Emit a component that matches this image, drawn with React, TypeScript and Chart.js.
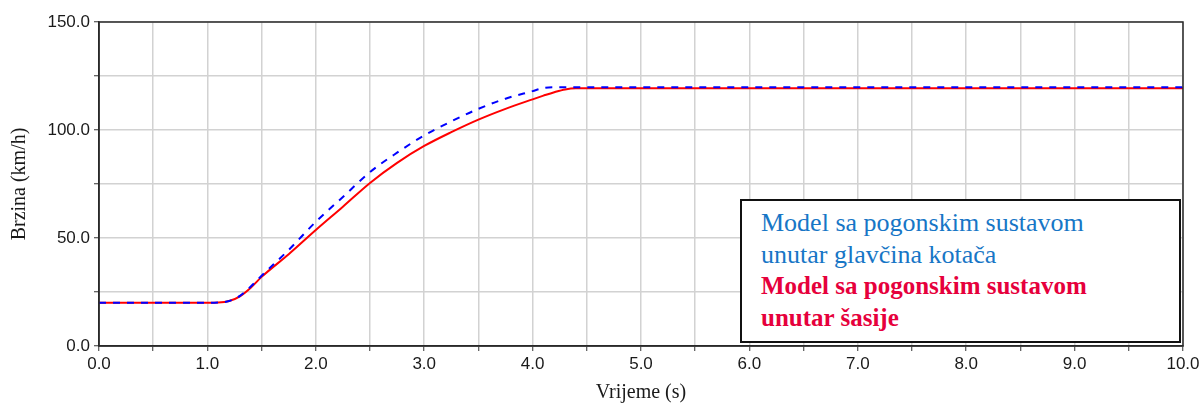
import React, { useEffect, useRef } from "react";
import { Chart, registerables } from "chart.js";

Chart.register(...registerables);

const timeS = [0, 1.0, 1.1, 1.2, 1.3, 1.4, 1.5, 1.75, 2.0, 2.25, 2.5, 2.75, 3.0, 3.25, 3.5, 3.75, 4.0, 4.1, 4.2, 4.3, 4.4, 5.0, 10.0];
const speedHub = [20, 20, 20.1, 20.8, 23.2, 27.5, 32.5, 44.5, 57.5, 69, 80.5, 89.5, 97.5, 104, 109.8, 114.5, 118, 119.4, 119.8, 119.8, 119.8, 119.8, 119.8];
const speedChassis = [20, 20, 20.1, 20.8, 23, 27, 32, 42.5, 53.7, 64.5, 75.5, 84.8, 92.6, 99, 104.8, 109.8, 114.2, 115.9, 117.5, 118.8, 119.3, 119.3, 119.3];

const seriesHub = "Model sa pogonskim sustavom unutar glavčina kotača";
const seriesChassis = "Model sa pogonskim sustavom unutar šasije";
const legendHub = ["Model sa pogonskim sustavom", "unutar glavčina kotača"];
const legendChassis = ["Model sa pogonskim sustavom", "unutar šasije"];
const xTitle = "Vrijeme (s)";
const yTitle = "Brzina (km/h)";

const W = 1203;
const H = 405;

const frame = {
  id: "frame",
  afterDatasetsDraw(chart: any) {
    const { ctx, chartArea: a } = chart;
    ctx.save();
    ctx.strokeStyle = "#2a2a2a";
    ctx.lineWidth = 1.5;
    ctx.strokeRect(a.left, a.top, a.right - a.left, a.bottom - a.top);
    ctx.restore();
  },
};

export default function App() {
  const ref = useRef<HTMLCanvasElement | null>(null);

  useEffect(() => {
    document.body.style.margin = "0";
    const canvas = ref.current;
    if (!canvas) return;
    const chart = new Chart(canvas, {
      type: "line",
      data: {
        datasets: [
          {
            label: seriesHub,
            data: timeS.map((t, i) => ({ x: t, y: speedHub[i] })),
            borderColor: "#0000ff",
            borderWidth: 2,
            borderDash: [7, 7],
            pointRadius: 0,
            cubicInterpolationMode: "monotone",
            fill: false,
          },
          {
            label: seriesChassis,
            data: timeS.map((t, i) => ({ x: t, y: speedChassis[i] })),
            borderColor: "#ff0000",
            borderWidth: 2,
            pointRadius: 0,
            cubicInterpolationMode: "monotone",
            fill: false,
          },
        ],
      },
      options: {
        responsive: false,
        animation: false,
        layout: { padding: { top: 22, right: 20, left: 0, bottom: 0 } },
        plugins: { legend: { display: false }, tooltip: { enabled: false } },
        scales: {
          x: {
            type: "linear",
            min: 0,
            max: 10,
            afterFit: (s: any) => {
              s.height = 59;
            },
            ticks: {
              stepSize: 0.5,
              autoSkip: false,
              maxRotation: 0,
              padding: 3,
              color: "#1a1a1a",
              font: { family: "'Liberation Sans', Arial, sans-serif", size: 17 },
              callback: (v: any) => (Number.isInteger(v) ? Number(v).toFixed(1) : ""),
            },
            grid: { color: "#d2d2d2", lineWidth: 1.5, tickLength: 5, tickColor: "#333333", tickWidth: 1 },
            border: { color: "#2a2a2a", width: 1.5 },
            title: {
              display: true,
              text: xTitle,
              color: "#1a1a1a",
              font: { family: "'Liberation Serif', 'Times New Roman', serif", size: 20 },
              padding: { top: 0, bottom: 0 },
            },
          },
          y: {
            type: "linear",
            min: 0,
            max: 150,
            afterFit: (s: any) => {
              s.width = 99;
            },
            ticks: {
              stepSize: 25,
              autoSkip: false,
              padding: 4,
              color: "#1a1a1a",
              font: { family: "'Liberation Sans', Arial, sans-serif", size: 17 },
              callback: (v: any) => (Number(v) % 50 === 0 ? Number(v).toFixed(1) : ""),
            },
            grid: { color: "#d2d2d2", lineWidth: 1.5, tickLength: 5, tickColor: "#333333", tickWidth: 1 },
            border: { color: "#2a2a2a", width: 1.5 },
            title: {
              display: true,
              text: yTitle,
              color: "#1a1a1a",
              font: { family: "'Liberation Serif', 'Times New Roman', serif", size: 20 },
              padding: { top: 8, bottom: 0 },
            },
          },
        },
      },
      plugins: [frame],
    });
    return () => chart.destroy();
  }, []);

  const lineStyle: React.CSSProperties = { whiteSpace: "nowrap", lineHeight: "31.5px" };

  return (
    <div style={{ position: "relative", width: W, height: H, background: "#ffffff" }}>
      <canvas ref={ref} width={W} height={H} style={{ display: "block", width: W, height: H }} />
      <div
        style={{
          position: "absolute",
          left: 740,
          top: 199,
          width: 441 - 4,
          height: 144 - 4,
          border: "2px solid #111111",
          background: "#ffffff",
          boxSizing: "content-box",
          paddingTop: 0,
          fontFamily: "'Liberation Serif', 'Times New Roman', serif",
        }}
      >
        <div style={{ position: "absolute", left: 19, top: 6 }}>
          {legendHub.map((t) => (
            <div key={t} style={{ ...lineStyle, color: "#1776c6", fontSize: 26 }}>
              {t}
            </div>
          ))}
          {legendChassis.map((t) => (
            <div key={t} style={{ ...lineStyle, color: "#e6003c", fontSize: 25, fontWeight: "bold" }}>
              {t}
            </div>
          ))}
        </div>
      </div>
    </div>
  );
}
